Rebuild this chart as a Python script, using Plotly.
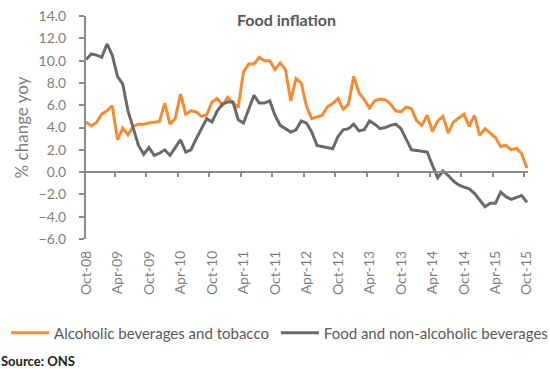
import plotly.graph_objects as go

# ---- data ----
tick_labels = ["Oct-08", "Apr-09", "Oct-09", "Apr-10", "Oct-10", "Apr-11", "Oct-11", "Apr-12",
               "Oct-12", "Apr-13", "Oct-13", "Apr-14", "Oct-14", "Apr-15", "Oct-15"]

alcohol_tobacco = [4.5, 4.15, 4.45, 5.2, 5.5, 5.95, 2.9, 3.95, 3.35, 4.1,
                   4.3, 4.3, 4.4, 4.5, 4.55, 6.2, 4.3, 4.8, 7.0, 5.2,
                   5.5, 5.4, 5.0, 5.15, 6.3, 6.6, 6.0, 6.7, 6.2, 5.8,
                   9.0, 9.7, 9.7, 10.3, 10.0, 10.0, 9.2, 9.8, 9.2, 6.4,
                   8.4, 8.0, 5.9, 4.8, 4.95, 5.1, 5.85, 6.15, 6.6, 5.65,
                   6.1, 8.6, 7.1, 6.5, 5.75, 6.4, 6.55, 6.5, 6.1, 5.5,
                   5.4, 5.85, 5.7, 4.6, 4.2, 5.1, 3.65, 4.6, 5.0, 3.5,
                   4.5, 4.85, 5.2, 4.1, 5.1, 3.3, 3.9, 3.5, 3.1, 2.3,
                   2.4, 2.0, 2.15, 1.65, 0.35]

food_non_alcoholic = [10.1, 10.6, 10.5, 10.3, 11.5, 10.5, 8.6, 7.9, 5.5, 3.9,
                      2.4, 1.6, 2.2, 1.5, 1.7, 2.0, 1.5, 2.2, 2.9, 1.8,
                      2.0, 3.0, 3.9, 4.8, 4.5, 5.5, 6.1, 6.3, 6.3, 4.7,
                      4.4, 5.6, 6.9, 6.2, 6.2, 6.4, 5.1, 4.2, 3.9, 3.6,
                      3.8, 4.6, 4.4, 3.6, 2.4, 2.3, 2.25, 2.1, 3.2, 3.8,
                      3.9, 4.3, 3.7, 3.8, 4.6, 4.3, 3.9, 4.0, 4.2, 4.3,
                      3.9, 2.9, 2.0, 1.95, 1.9, 1.8, 0.6, -0.5, 0.1, -0.3,
                      -0.8, -1.15, -1.35, -1.5, -1.9, -2.5, -3.1, -2.8, -2.8, -1.8,
                      -2.2, -2.45, -2.3, -2.1, -2.7]

months = list(range(len(food_non_alcoholic)))
label_pos = list(range(0, len(months), 6))
tick_pos = [p - 0.5 for p in label_pos[1:]]

ORANGE = "#F68B33"
GREY = "#6A6A6A"
AXIS = "#8C8C8C"
TEXT = "#7F7F7F"
FONT = "Lato"

fig = go.Figure()
fig.add_trace(go.Scatter(x=months, y=alcohol_tobacco, mode="lines",
                         name="Alcoholic beverages and tobacco", legend="legend",
                         line=dict(color=ORANGE, width=3)))
fig.add_trace(go.Scatter(x=months, y=food_non_alcoholic, mode="lines",
                         name="Food and non-alcoholic beverages", legend="legend2",
                         line=dict(color=GREY, width=3)))

leg_common = dict(orientation="h", xref="container", yref="container", xanchor="left",
                  yanchor="middle", y=1 - 333 / 369,
                  font=dict(family=FONT, size=15, color="#595959"),
                  itemwidth=38, tracegroupgap=0, bgcolor="rgba(0,0,0,0)")

xr = [0, 84.2]
fig.update_layout(
    width=550, height=369,
    margin=dict(l=86, r=22, t=7, b=130),
    paper_bgcolor="white", plot_bgcolor="white",
    font=dict(family=FONT, color=TEXT, size=14),
    title=dict(text="<b>Source: ONS</b>", xref="container", yref="container",
               x=1 / 550, xanchor="left", y=1 - 361 / 369, yanchor="middle",
               font=dict(family=FONT, size=13, color="#222222")),
    showlegend=True,
    legend=dict(x=0.011, **leg_common),
    legend2=dict(x=0.5015, **leg_common),
    xaxis=dict(range=xr, tickvals=label_pos, ticktext=tick_labels, tickangle=-90,
               showline=False, showgrid=False, zeroline=False, ticks="",
               ticklabelstandoff=8, tickfont=dict(size=14, color=TEXT)),
    xaxis2=dict(range=xr, overlaying="x", anchor="free", position=0.3, matches="x",
                tickvals=tick_pos, showticklabels=False, ticks="outside", ticklen=4,
                tickwidth=1.5, tickcolor=AXIS, showline=True, linecolor=AXIS,
                linewidth=2, showgrid=False, zeroline=False),
    yaxis=dict(range=[-6, 14.01], dtick=2, tick0=0, tickformat=".1f",
               showline=True, linecolor=AXIS, linewidth=2, ticks="outside",
               ticklen=5, tickwidth=1.5, tickcolor=AXIS, showgrid=False, zeroline=False,
               ticklabelstandoff=10, ticklabeloverflow="allow",
               tickfont=dict(size=14, color=TEXT),
               title=dict(text="% change yoy", standoff=6,
                          font=dict(family=FONT, size=17, color=TEXT))),
)
# invisible trace to realise xaxis2
fig.add_trace(go.Scatter(x=[0], y=[0], xaxis="x2", mode="markers",
                         marker=dict(opacity=0), showlegend=False, hoverinfo="skip"))

fig.add_annotation(text="<b>Food inflation</b>", xref="paper", yref="paper",
                   x=(286 - 86) / 442, y=(239 - 11) / 232, xanchor="center", yanchor="middle",
                   showarrow=False, font=dict(family=FONT, size=16, color="#595959"))

fig.write_html("out.html", config={"displayModeBar": False},
               post_script="document.body.style.margin='0';")
